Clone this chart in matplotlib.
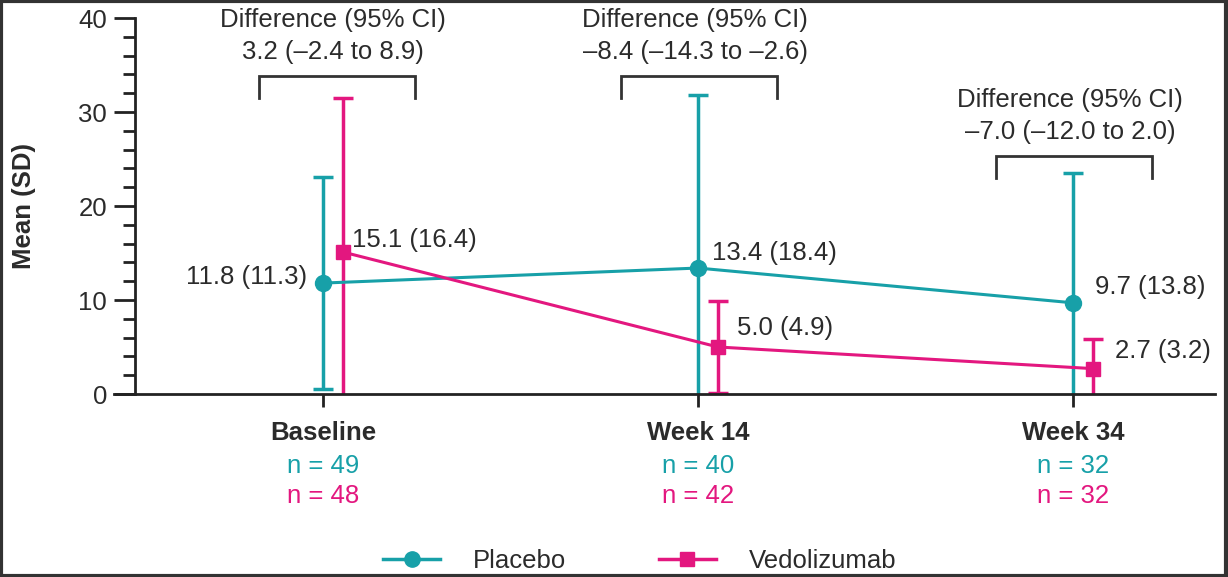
import matplotlib
matplotlib.use("Agg")
import matplotlib.pyplot as plt
from matplotlib.patches import Rectangle
from matplotlib.lines import Line2D
import numpy as np

plt.rcParams['font.family'] = ['Liberation Sans', 'DejaVu Sans']

categories = ["Baseline", "Week 14", "Week 34"]
placebo_mean = [11.8, 13.4, 9.7]
placebo_sd = [11.3, 18.4, 13.8]
vedo_mean = [15.1, 5.0, 2.7]
vedo_sd = [16.4, 4.9, 3.2]
placebo_n = [49, 40, 32]
vedo_n = [48, 42, 32]
diff_text = ["3.2 (\u20132.4 to 8.9)", "\u20138.4 (\u201314.3 to \u20132.6)", "\u20137.0 (\u201312.0 to 2.0)"]

TEAL = "#17A0A8"
MAG = "#E3177F"
TXT = "#2b2b2b"
FS = 18.5

fig = plt.figure(figsize=(12.28, 5.77), dpi=100)
ax = fig.add_axes([114/1228, 1-394/577, (1215-114)/1228, (394-18)/577])

x = np.arange(len(categories))
off = 20/375
xp = x
xv = x + off

def draw(xs, means, sds, color, marker, ms):
    means = np.array(means); sds = np.array(sds)
    lo = np.maximum(means - sds, 0)
    hi = means + sds
    ax.vlines(xs, lo, hi, color=color, lw=2.5, zorder=2)
    ax.plot(xs, hi, ls='none', marker='_', ms=14, mew=2.5, color=color, zorder=2)
    m = means - sds > 0
    ax.plot(np.array(xs)[m], lo[m], ls='none', marker='_', ms=14, mew=2.5, color=color, zorder=2)
    ax.plot(xs, means, color=color, lw=2.2, marker=marker, ms=ms, zorder=3)

draw(xp, placebo_mean, placebo_sd, TEAL, 'o', 11.5)
draw(xv, vedo_mean, vedo_sd, MAG, 's', 10)

ax.set_xlim((114-323)/375, (1215-323)/375)
ax.set_ylim(0, 40)
ax.spines['left'].set_position(('data', (135-323)/375))
for s in ['top', 'right']:
    ax.spines[s].set_visible(False)
for s in ['left', 'bottom']:
    ax.spines[s].set_linewidth(2.0)
    ax.spines[s].set_color('#222222')

ax.set_yticks([0, 10, 20, 30, 40])
ax.set_yticks(np.arange(0, 41, 2), minor=True)
ax.tick_params(axis='y', which='major', length=15, width=2.0, labelsize=FS, pad=5, colors='#222222', labelcolor=TXT)
ax.tick_params(axis='y', which='minor', length=8.5, width=2.0, colors='#222222')
ax.set_xticks(x)
ax.set_xticklabels([])
ax.tick_params(axis='x', which='major', length=9, width=2.0, colors='#222222')

ax.set_ylabel("Mean (SD)", fontsize=FS, fontweight='bold', color=TXT, va='center')
ax.yaxis.set_label_coords((24-114)/1101, 0.5)

# category labels
for i, c in enumerate(categories):
    ax.text(x[i], -4.15, c, ha='center', va='center', fontsize=FS, fontweight='bold', color=TXT, clip_on=False)
    ax.text(x[i], -7.7, f"n = {placebo_n[i]}", ha='center', va='center', fontsize=FS, color=TEAL, clip_on=False)
    ax.text(x[i], -10.9, f"n = {vedo_n[i]}", ha='center', va='center', fontsize=FS, color=MAG, clip_on=False)

# value labels
pl_lab = [(-0.043, 12.4, 'right'), (0.037, 15.0, 'left'), (0.059, 11.4, 'left')]
vd_lab = [(0.024, 16.4, 'left'), (0.05, 7.0, 'left'), (0.059, 4.6, 'left')]
for i in range(3):
    dx, yy, ha = pl_lab[i]
    ax.text(x[i] + dx, yy, f"{placebo_mean[i]:.1f} ({placebo_sd[i]:.1f})", ha=ha, va='center', fontsize=FS, color=TXT)
    dx, yy, ha = vd_lab[i]
    ax.text(xv[i] + dx, yy, f"{vedo_mean[i]:.1f} ({vedo_sd[i]:.1f})", ha=ha, va='center', fontsize=FS, color=TXT)

# difference brackets
br_center = [(337-323)/375, 1 + (699-698)/375, 2 + (1074-1073)/375]
br_top = [33.8, 33.8, 25.3]
half = 78/375
for i in range(3):
    cx = br_center[i]
    t = br_top[i]
    ax.plot([cx-half, cx-half, cx+half, cx+half], [t-2.3, t, t, t-2.3], color='#333333', lw=2.0, clip_on=False, solid_joinstyle='miter')
    ax.text(cx - 0.01, t + 6.0, "Difference (95% CI)", ha='center', va='center', fontsize=FS, color=TXT, clip_on=False)
    ax.text(cx - 0.01, t + 2.6, diff_text[i], ha='center', va='center', fontsize=FS, color=TXT, clip_on=False)

handles = [Line2D([], [], color=TEAL, lw=2.5, marker='o', ms=11),
           Line2D([], [], color=MAG, lw=2.5, marker='s', ms=9.5)]
fig.legend(handles, ["Placebo", "Vedolizumab"], loc='center', bbox_to_anchor=(640/1228, 1-561/577),
           ncol=2, frameon=False, fontsize=FS, handlelength=2.2, handletextpad=1.3, columnspacing=3.6,
           labelcolor=TXT)

fig.patches.append(Rectangle((0.001, 0.002), 0.997, 0.996, transform=fig.transFigure, fill=False,
                             edgecolor='#333333', lw=3))

fig.savefig("out.png", dpi=100)
